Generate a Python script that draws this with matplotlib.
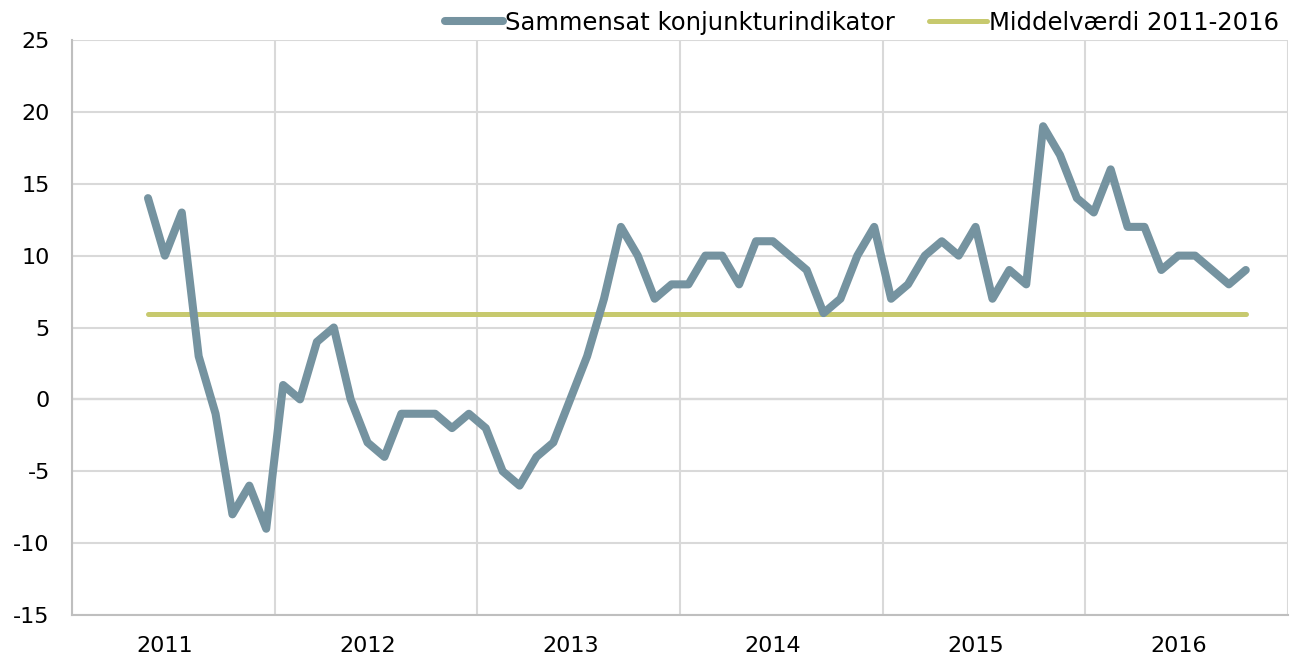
import matplotlib
matplotlib.use("Agg")
import matplotlib.pyplot as plt
import numpy as np

# Monthly values, May 2011 - Oct 2016
start_year = 2011
start_month = 4  # May (0-indexed)
indicator = [14, 10, 13, 3, -1, -8, -6, -9,
             1, 0, 4, 5, 0, -3, -4, -1, -1, -1, -2, -1,
             -2, -5, -6, -4, -3, 0, 3, 7, 12, 10, 7, 8,
             8, 10, 10, 8, 11, 11, 10, 9, 6, 7, 10, 12,
             7, 8, 10, 11, 10, 12, 7, 9, 8, 19, 17, 14,
             13, 16, 12, 12, 9, 10, 10, 9, 8, 9]
mean_value = 5.94  # Middelværdi 2011-2016
years = [2011, 2012, 2013, 2014, 2015, 2016]
yticks = [-15, -10, -5, 0, 5, 10, 15, 20, 25]

series_label = "Sammensat konjunkturindikator"
mean_label = "Middelværdi 2011-2016"

# x positions: centre of each month, in fractional years
months = np.arange(len(indicator)) + start_month
x = start_year + (months + 0.5) / 12

plt.rcParams['font.family'] = ['DejaVu Sans']

fig = plt.figure(figsize=(12.96, 6.59), dpi=100)
ax = fig.add_axes([72 / 1296, 1 - 615 / 659, (1288 - 72) / 1296, (615 - 40) / 659])

ax.plot(x, indicator, color='#7593a0', lw=5.8, solid_joinstyle='round',
        solid_capstyle='round', label=series_label, zorder=3)
ax.plot([x[0], x[-1]], [mean_value, mean_value], color='#c7c96e', lw=3.6,
        solid_capstyle='round', label=mean_label, zorder=2)
ax.axhline(0, color='#808080', lw=1.5, zorder=1)

ax.set_xlim(2011, 2017)
ax.set_ylim(-15, 25)
ax.set_yticks(yticks)
ax.set_yticklabels([str(v) for v in yticks])
ax.set_xticks([y + 5.5 / 12 for y in years])
ax.set_xticklabels([str(y) for y in years])
ax.set_xticks(np.arange(2011, 2018), minor=True)

ax.grid(axis='y', color='#d9d9d9', lw=1.5, zorder=0)
ax.grid(axis='x', which='minor', color='#d9d9d9', lw=1.5, zorder=0)
ax.tick_params(axis='both', which='both', length=0, labelsize=16, colors='black')
ax.tick_params(axis='y', pad=16)
ax.tick_params(axis='x', pad=15)

for side in ['top', 'right']:
    ax.spines[side].set_visible(False)
for side in ['left', 'bottom']:
    ax.spines[side].set_color('#bfbfbf')
    ax.spines[side].set_linewidth(1.5)

fig.legend(loc='upper right', bbox_to_anchor=(1290 / 1296, 1.0), ncol=2,
           frameon=False, fontsize=17.5, handlelength=2.4, handletextpad=0.08,
           columnspacing=1.4, borderaxespad=0.05)

fig.savefig('out.png', dpi=100)
